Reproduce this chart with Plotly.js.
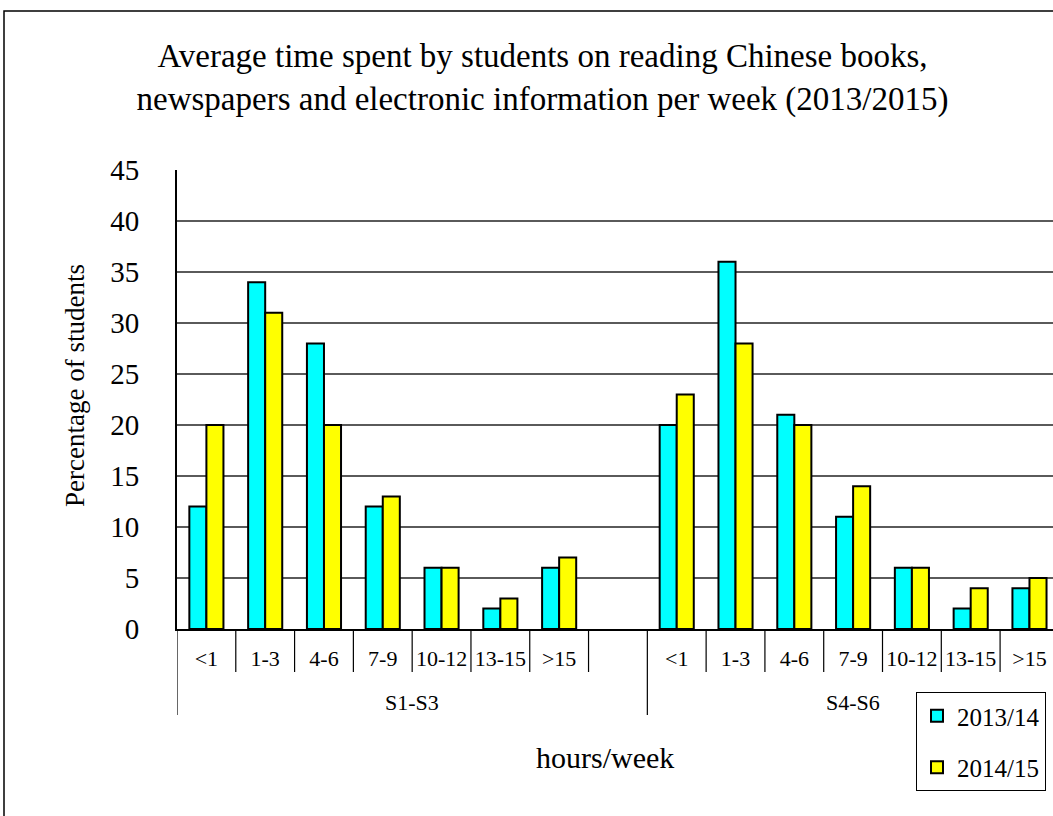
<!DOCTYPE html>
<html>
<head>
<meta charset="utf-8">
<script src="https://cdn.plot.ly/plotly-3.0.1.min.js"></script>
<style>
  html, body { margin: 0; padding: 0; background: #fff; }
  #chart { width: 1053px; height: 816px; }
</style>
</head>
<body>
<div id="chart"></div>
<script>
// Hours-per-week bands and school levels
const hourBands = ['<1', '1-3', '4-6', '7-9', '10-12', '13-15', '>15'];
const levels = ['S1-S3', 'S4-S6'];
const seriesNames = ['2013/14', '2014/15'];

// Percentage of students, S1-S3
const juniorFirstYear = [12, 34, 28, 12, 6, 2, 6];
const juniorSecondYear = [20, 31, 20, 13, 6, 3, 7];
// Percentage of students, S4-S6
const seniorFirstYear = [20, 36, 21, 11, 6, 2, 4];
const seniorSecondYear = [23, 28, 20, 14, 6, 4, 5];

const yTickValues = [0, 5, 10, 15, 20, 25, 30, 35, 40, 45];

// Slot layout on the category axis: S1-S3 takes 7 bands plus one empty slot,
// S4-S6 follows with its 7 bands.
const juniorSlots = hourBands.map((_, i) => i);
const seniorStart = hourBands.length + 1;
const seniorSlots = hourBands.map((_, i) => seniorStart + i);
const slotPositions = juniorSlots.concat(seniorSlots);
const slotLabels = hourBands.concat(hourBands);

const serif = 'Liberation Serif, Times New Roman, serif';
const outline = { color: '#000', width: 2 };

const traces = [
  {
    type: 'bar',
    name: seriesNames[0],
    legendgroup: 'first',
    x: slotPositions,
    y: juniorFirstYear.concat(seniorFirstYear),
    marker: { color: '#00FFFF', line: outline }
  },
  {
    type: 'bar',
    name: seriesNames[1],
    legendgroup: 'second',
    x: slotPositions,
    y: juniorSecondYear.concat(seniorSecondYear),
    marker: { color: '#FFFF00', line: outline }
  }
];

// Pixel-to-paper helpers for the plot frame (plot area 177..1053 x 170..629)
const figWidth = 1053, figHeight = 816;
const plotLeft = 177, plotWidth = 876, plotTop = 170, plotHeight = 459;
const px = v => (v - plotLeft) / plotWidth;
const py = v => (plotTop + plotHeight - v) / plotHeight;

// Separators between category slots; group boundaries run lower
const separators = [];
for (let k = 0; k <= seniorStart + hourBands.length; k++) {
  const isGroupEdge = (k === 0 || k === seniorStart);
  separators.push({
    type: 'line',
    xref: 'x', yref: 'paper',
    x0: k - 0.5, x1: k - 0.5,
    y0: 0, y1: isGroupEdge ? py(715) : py(672),
    line: { color: '#000', width: 1.2 }
  });
}

const groupCentres = [
  (-0.5 + seniorStart - 0.5) / 2,
  (seniorStart - 0.5 + seniorStart + hourBands.length - 0.5) / 2
];

const layout = {
  width: figWidth,
  height: figHeight,
  margin: { l: plotLeft, r: figWidth - plotLeft - plotWidth, t: plotTop, b: figHeight - plotTop - plotHeight, pad: 0 },
  paper_bgcolor: '#fff',
  plot_bgcolor: '#fff',
  font: { family: serif, color: '#000', size: 22 },
  barmode: 'group',
  bargap: 0.42,
  bargroupgap: 0,
  showlegend: true,
  title: {
    text: 'Average time spent by students on reading Chinese books,<br>newspapers and electronic information per week (2013/2015)',
    font: { family: serif, size: 33, color: '#000' },
    xref: 'container', yref: 'container',
    x: 542.5 / figWidth, xanchor: 'center',
    y: 1 - 67 / figHeight, yanchor: 'middle'
  },
  xaxis: {
    range: [-0.5, 14.4],
    tickmode: 'array',
    tickvals: slotPositions,
    ticktext: slotLabels,
    ticks: '',
    showgrid: false,
    showline: true,
    linecolor: '#000',
    linewidth: 2,
    zeroline: false,
    ticklabelstandoff: 9,
    tickfont: { family: serif, size: 22, color: '#000' }
  },
  yaxis: {
    range: [0, 45],
    tickmode: 'array',
    tickvals: yTickValues,
    ticks: '',
    ticklabelstandoff: 30,
    showline: true,
    linecolor: '#000',
    linewidth: 2,
    showgrid: true,
    gridcolor: '#5a5a5a',
    gridwidth: 1.3,
    zeroline: false,
    tickfont: { family: serif, size: 29, color: '#000' }
  },
  legend: {
    x: px(916),
    xanchor: 'left',
    y: py(692),
    yanchor: 'top',
    bgcolor: '#fff',
    bordercolor: '#000',
    borderwidth: 1,
    font: { family: serif, size: 25, color: '#000' },
    itemwidth: 30,
    tracegroupgap: 16
  },
  annotations: [
    {
      text: 'Percentage of students',
      xref: 'paper', yref: 'paper',
      x: px(75), y: py(386),
      xanchor: 'center', yanchor: 'middle',
      textangle: -90,
      showarrow: false,
      font: { family: serif, size: 27, color: '#000' }
    },
    {
      text: levels[0],
      xref: 'x', yref: 'paper',
      x: groupCentres[0], y: py(702),
      xanchor: 'center', yanchor: 'middle',
      showarrow: false,
      font: { family: serif, size: 22, color: '#000' }
    },
    {
      text: levels[1],
      xref: 'x', yref: 'paper',
      x: groupCentres[1], y: py(702),
      xanchor: 'center', yanchor: 'middle',
      showarrow: false,
      font: { family: serif, size: 22, color: '#000' }
    },
    {
      text: 'hours/week',
      xref: 'paper', yref: 'paper',
      x: px(605), y: py(757),
      xanchor: 'center', yanchor: 'middle',
      showarrow: false,
      font: { family: serif, size: 30, color: '#000' }
    }
  ],
  shapes: separators.concat([
    {
      type: 'rect',
      xref: 'paper', yref: 'paper',
      x0: px(4), x1: 1.2,
      y0: -0.5, y1: py(11),
      line: { color: '#000', width: 1.5 },
      fillcolor: 'rgba(0,0,0,0)',
      layer: 'below'
    }
  ])
};

Plotly.newPlot('chart', traces, layout, { displayModeBar: false, staticPlot: true });
</script>
</body>
</html>
